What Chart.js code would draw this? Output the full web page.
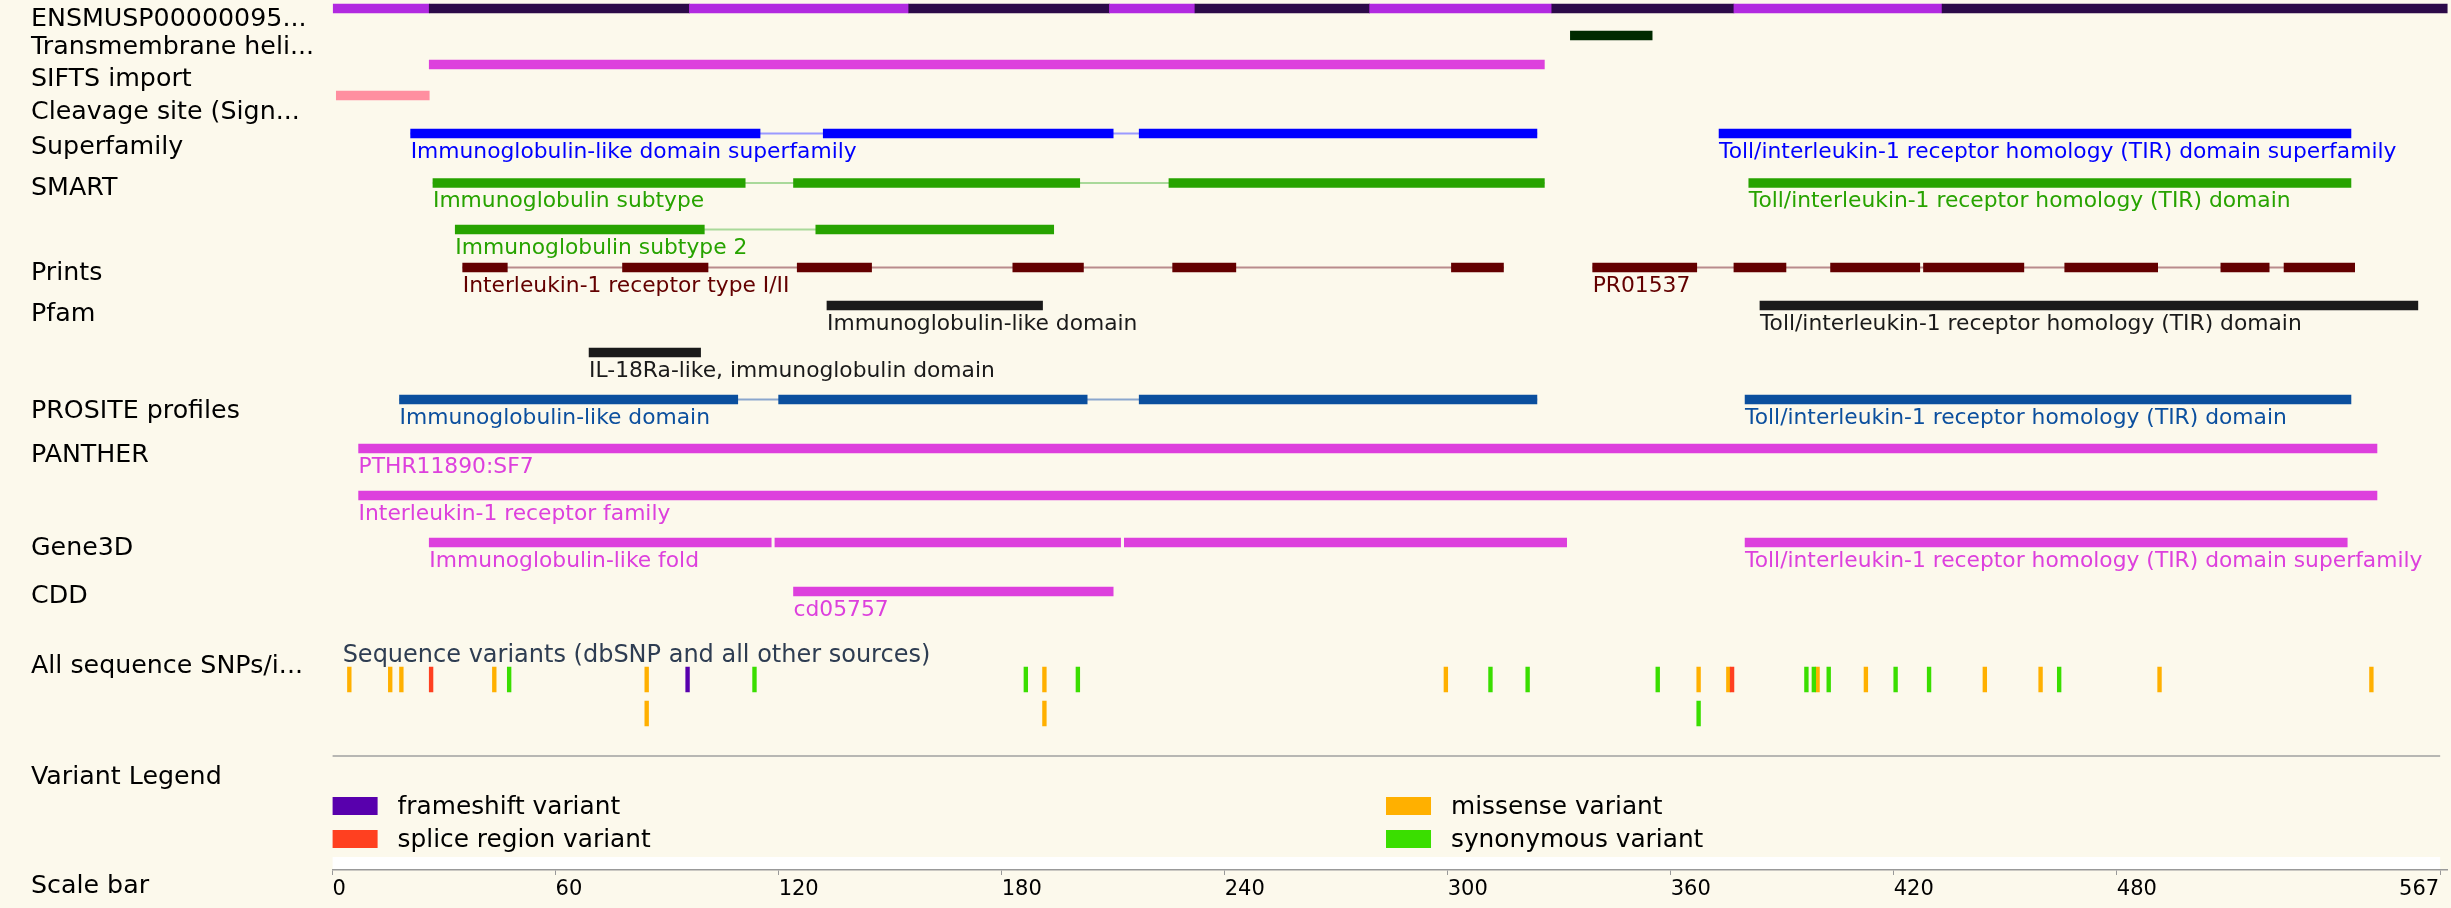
<!DOCTYPE html>
<html>
<head>
<meta charset="utf-8">
<script src="https://cdn.jsdelivr.net/npm/chart.js@4.4.0/dist/chart.umd.min.js"></script>
<style>
html, body { margin: 0; padding: 0; background: #fcf9ec; }
canvas { display: block; }
</style>
</head>
<body>
<canvas id="protein" width="2451" height="908" style="width:2451px;height:908px"></canvas>
<script>
// residue coordinates (aa)
const seqEnd = 569;
const scaleTicks = [0, 60, 120, 180, 240, 300, 360, 420, 480, 567];
const exonBounds = [0, 26, 96, 155, 209, 232, 279, 328, 377, 433, 569];

const transmembrane = [[333, 355]];
const siftsImport = [[26, 326]];
const cleavageSite = [[1, 26]];
const superfamilyIg = [[21, 115], [132, 210], [217, 324]];
const superfamilyTir = [[373, 543]];
const smartIg = [[27, 111], [124, 201], [225, 326]];
const smartIg2 = [[33, 100], [130, 194]];
const smartTir = [[381, 543]];
const printsIl1r = [[35, 47], [78, 101], [125, 145], [183, 202], [226, 243], [301, 315]];
const printsPR01537 = [[339, 367], [377, 391], [403, 427], [428, 455], [466, 491], [508, 521], [525, 544]];
const pfamIg = [[133, 191]];
const pfamTir = [[384, 561]];
const pfamIl18 = [[69, 99]];
const prositeIg = [[18, 109], [120, 203], [217, 324]];
const prositeTir = [[380, 543]];
const pantherSf7 = [[7, 550]];
const pantherFamily = [[7, 550]];
const gene3dIg = [[26, 118], [119, 212], [213, 332]];
const gene3dTir = [[380, 542]];
const cddIg = [[124, 210]];

// variant positions (first residue of each tick)
const missense = [4, 15, 18, 43, 84, 191, 299, 367, 375, 399, 412, 444, 459, 491, 548];
const synonymous = [47, 113, 186, 200, 311, 321, 356, 396, 398, 402, 420, 429, 464];
const spliceRegion = [26, 376];
const frameshift = [95];
const missenseRow2 = [84, 191];
const synonymousRow2 = [367];

const trackNames = ['ENSMUSP00000095...', 'Transmembrane heli...', 'SIFTS import', 'Cleavage site (Sign...',
  'Superfamily', 'SMART', 'Prints', 'Pfam', 'PROSITE profiles', 'PANTHER', 'Gene3D', 'CDD',
  'All sequence SNPs/i...', 'Variant Legend', 'Scale bar'];

// layout: lane centres (px from top), label baselines
const lane = { ens: 8.5, tm: 35.5, sifts: 64.5, cleav: 95.5, sfam: 133.5, smart: 183, smart2: 229.5,
  prints: 267.5, pfam: 305.5, pfam2: 352.5, prosite: 399.5, panther: 448.5, panther2: 495.5,
  gene3d: 542.5, cdd: 591.5, snp: 679.5, snp2: 713.5 };
const trackNameY = [25.7, 54.3, 86, 119, 154, 195, 280, 320.7, 418.3, 461.7, 555, 603.3, 672.7, 784.3, 893.3];
const bg = '#fcf9ec';
const fontFamily = '"DejaVu Sans", Verdana, sans-serif';

const features = [
  { segs: transmembrane, lane: lane.tm, color: '#002a00' },
  { segs: siftsImport, lane: lane.sifts, color: '#dd40dd' },
  { segs: cleavageSite, lane: lane.cleav, color: '#ff8fa0' },
  { segs: superfamilyIg, lane: lane.sfam, color: '#0000ff', link: '#9a9aff', text: 'Immunoglobulin-like domain superfamily' },
  { segs: superfamilyTir, lane: lane.sfam, color: '#0000ff', text: 'Toll/interleukin-1 receptor homology (TIR) domain superfamily' },
  { segs: smartIg, lane: lane.smart, color: '#27a300', link: '#a9d99a', text: 'Immunoglobulin subtype' },
  { segs: smartTir, lane: lane.smart, color: '#27a300', text: 'Toll/interleukin-1 receptor homology (TIR) domain' },
  { segs: smartIg2, lane: lane.smart2, color: '#27a300', link: '#a9d99a', text: 'Immunoglobulin subtype 2' },
  { segs: printsIl1r, lane: lane.prints, color: '#630000', link: '#b98c8c', text: 'Interleukin-1 receptor type I/II' },
  { segs: printsPR01537, lane: lane.prints, color: '#630000', link: '#b98c8c', text: 'PR01537' },
  { segs: pfamIg, lane: lane.pfam, color: '#1a1a1a', text: 'Immunoglobulin-like domain' },
  { segs: pfamTir, lane: lane.pfam, color: '#1a1a1a', text: 'Toll/interleukin-1 receptor homology (TIR) domain' },
  { segs: pfamIl18, lane: lane.pfam2, color: '#1a1a1a', text: 'IL-18Ra-like, immunoglobulin domain' },
  { segs: prositeIg, lane: lane.prosite, color: '#0b4f9e', link: '#8ba7cd', text: 'Immunoglobulin-like domain' },
  { segs: prositeTir, lane: lane.prosite, color: '#0b4f9e', text: 'Toll/interleukin-1 receptor homology (TIR) domain' },
  { segs: pantherSf7, lane: lane.panther, color: '#dd40dd', text: 'PTHR11890:SF7' },
  { segs: pantherFamily, lane: lane.panther2, color: '#dd40dd', text: 'Interleukin-1 receptor family' },
  { segs: gene3dIg, lane: lane.gene3d, color: '#dd40dd', text: 'Immunoglobulin-like fold' },
  { segs: gene3dTir, lane: lane.gene3d, color: '#dd40dd', text: 'Toll/interleukin-1 receptor homology (TIR) domain superfamily' },
  { segs: cddIg, lane: lane.cdd, color: '#dd40dd', text: 'cd05757' }
];

const variantTypes = [
  { pos: frameshift, lane: lane.snp, color: '#5800ad' },
  { pos: missense, lane: lane.snp, color: '#ffb000' },
  { pos: synonymous, lane: lane.snp, color: '#3ade00' },
  { pos: missenseRow2, lane: lane.snp2, color: '#ffb000' },
  { pos: synonymousRow2, lane: lane.snp2, color: '#3ade00' },
  { pos: spliceRegion, lane: lane.snp, color: '#ff4020' }
];

function barSet(points, color, thick, order) {
  return { data: points, backgroundColor: color, barThickness: thick, maxBarThickness: thick,
    grouped: false, borderWidth: 0, order: order };
}

const datasets = [];
// protein exons, alternating colours
let exonData = [], exonColors = [];
for (let i = 0; i < exonBounds.length - 1; i++) {
  exonData.push({ x: [exonBounds[i], exonBounds[i + 1]], y: lane.ens });
  exonColors.push(i % 2 === 0 ? '#b12ae0' : '#2c0a48');
}
datasets.push(barSet(exonData, exonColors, 9, 5));

features.forEach(function(f){
  if (f.link) {
    datasets.push(barSet([{ x: [f.segs[0][0], f.segs[f.segs.length - 1][1]], y: f.lane }], f.link, 1.5, 9));
  }
  datasets.push(barSet(f.segs.map(s => ({ x: s, y: f.lane })), f.color, 9, 5));
});

variantTypes.forEach(function(v, i){
  datasets.push(barSet(v.pos.map(p => ({ x: [p, p + 1], y: v.lane })), v.color, 25, 4 - i * 0.5));
});

const legendOrder = [
  { color: '#5800ad', text: 'frameshift variant', col: 0, row: 0 },
  { color: '#ff4020', text: 'splice region variant', col: 0, row: 1 },
  { color: '#ffb000', text: 'missense variant', col: 1, row: 0 },
  { color: '#3ade00', text: 'synonymous variant', col: 1, row: 1 }
];

const textLayer = {
  id: 'textLayer',
  beforeDraw(chart) {
    const ctx = chart.ctx;
    const x = chart.scales.x;
    ctx.save();
    ctx.fillStyle = bg;
    ctx.fillRect(0, 0, chart.width, chart.height);
    ctx.fillStyle = '#ffffff';
    ctx.fillRect(x.getPixelForValue(0), 857, x.getPixelForValue(567) - x.getPixelForValue(0), 13);
    ctx.restore();
  },
  afterDraw(chart) {
    const ctx = chart.ctx;
    const x = chart.scales.x;
    ctx.save();
    ctx.textBaseline = 'alphabetic';
    ctx.textAlign = 'left';

    // track names
    ctx.font = '25.3px ' + fontFamily;
    ctx.fillStyle = '#000000';
    trackNames.forEach((t, i) => ctx.fillText(t, 31, trackNameY[i]));

    // feature labels
    ctx.font = '21.8px ' + fontFamily;
    features.forEach(function(f){
      if (!f.text) return;
      ctx.fillStyle = f.color;
      ctx.fillText(f.text, x.getPixelForValue(f.segs[0][0]), f.lane + 24);
    });

    ctx.font = '24px ' + fontFamily;
    ctx.fillStyle = '#2e3d52';
    ctx.fillText('Sequence variants (dbSNP and all other sources)', x.getPixelForValue(2.7), 661.7);

    // separator
    ctx.strokeStyle = '#a0a0a0';
    ctx.lineWidth = 1.5;
    ctx.beginPath();
    ctx.moveTo(x.getPixelForValue(0), 756);
    ctx.lineTo(x.getPixelForValue(567), 756);
    ctx.stroke();

    // variant legend
    ctx.font = '24.8px ' + fontFamily;
    legendOrder.forEach(function(l){
      const lx = l.col === 0 ? x.getPixelForValue(0) : x.getPixelForValue(283.4);
      const ly = 797 + l.row * 33;
      ctx.fillStyle = l.color;
      ctx.fillRect(lx, ly, 45, 18);
      ctx.fillStyle = '#000000';
      ctx.fillText(l.text, lx + 65, ly + 16.5);
    });

    // scale bar labels
    ctx.font = '21px ' + fontFamily;
    ctx.fillStyle = '#000000';
    scaleTicks.forEach(function(v, i){
      const last = i === scaleTicks.length - 1;
      ctx.textAlign = last ? 'right' : 'left';
      ctx.fillText(String(v), x.getPixelForValue(v) + (last ? -1 : 0), 895);
    });
    ctx.restore();
  }
};

new Chart(document.getElementById('protein'), {
  type: 'bar',
  data: { datasets: datasets },
  options: {
    indexAxis: 'y',
    responsive: false,
    animation: false,
    devicePixelRatio: 1,
    layout: { padding: { left: 332.6, right: 3.4, top: 0, bottom: 0 } },
    plugins: { legend: { display: false }, tooltip: { enabled: false } },
    scales: {
      x: {
        type: 'linear',
        position: 'bottom',
        min: 0,
        max: seqEnd,
        stacked: false,
        offset: false,
        afterBuildTicks: function(scale){ scale.ticks = scaleTicks.map(v => ({ value: v })); },
        afterFit: function(scale){ scale.height = 38; },
        grid: { drawOnChartArea: false, drawTicks: true, tickLength: 5, color: '#999999', lineWidth: 1, offset: false },
        border: { display: true, color: '#999999', width: 1.5 },
        ticks: { display: false }
      },
      y: {
        type: 'linear',
        reverse: true,
        offset: false,
        grace: 0,
        min: 0,
        max: 870,
        display: false
      }
    }
  },
  plugins: [textLayer]
});
</script>
</body>
</html>
